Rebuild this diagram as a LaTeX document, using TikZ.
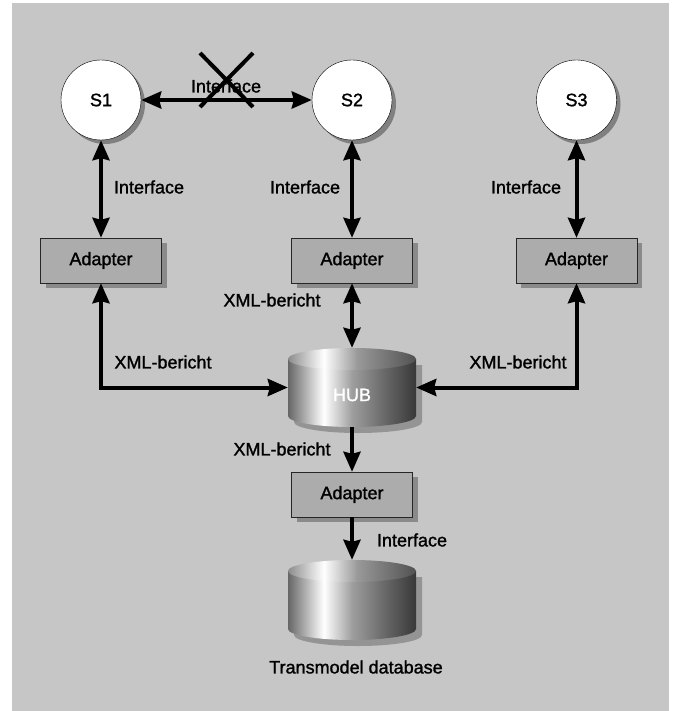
\documentclass[tikz,border=0pt]{standalone}
\usepackage{fontspec}
\setmainfont{Liberation Sans}[BoldFont=Liberation Sans, BoldFeatures={FakeBold=1.4}]
\usetikzlibrary{arrows.meta, positioning, shadows}
\usepackage{xcolor}
\definecolor{panelgray}{HTML}{C6C6C6}
\definecolor{boxgray}{HTML}{ACACAC}
\pgfdeclarehorizontalshading{cylbody}{100bp}{color(0bp)=(black!60); color(25bp)=(black!60); color(39bp)=(white); color(50bp)=(black!38); color(62bp)=(black!58); color(75bp)=(black!78); color(100bp)=(black!78)}
\pgfdeclarehorizontalshading{cyltop}{100bp}{color(0bp)=(black!45); color(25bp)=(black!45); color(39bp)=(white); color(52bp)=(black!40); color(75bp)=(black!68); color(100bp)=(black!68)}

\begin{document}
\begin{tikzpicture}[x=1pt, y=-1pt, >={Stealth[length=20pt, width=17pt, inset=2pt]},
  font=\fontsize{18}{21}\selectfont\bfseries,
  sys/.style={circle, draw=black, thin, fill=white, minimum size=80pt, inner sep=0pt,
    drop shadow={shadow xshift=4pt, shadow yshift=-4pt, opacity=0.35, fill=black}},
  adapter/.style={rectangle, draw=black!85, thin, fill=boxgray, minimum width=121pt, minimum height=45pt, inner sep=0pt,
    drop shadow={shadow xshift=5pt, shadow yshift=-5pt, opacity=0.3, fill=black}},
  link/.style={line width=4pt},
  lbl/.style={inner sep=0pt}]
  % Panel
  \useasboundingbox (0,0) rectangle (675,711);
  \fill[panelgray] (12,3) rectangle (669,711);
  % Cylinders
  \foreach \t/\b in {348/427, 560/640} {
    \fill[black, opacity=0.25] (294,\t+17) -- (294,\b-5) arc[start angle=180, end angle=0, x radius=64, y radius=11] -- (422,\t+17) -- cycle;
    \path[shading=cylbody] (288,\t+11) -- (288,\b-11) arc[start angle=180, end angle=0, x radius=64, y radius=11] -- (416,\t+11) -- cycle;
    \path[shading=cyltop] (352,\t+11) ellipse [x radius=64, y radius=11];
  }
  \node[minimum width=128pt, minimum height=79pt, inner sep=0pt] (hub) at (352,387.5) {};
  \node[lbl, text=white] (hubtxt) at (352,395) {HUB};
  \node[minimum width=128pt, minimum height=80pt, inner sep=0pt] (db) at (352,600) {};
  \node[lbl] (dbtxt) at (356,667) {Transmodel database};
  % Systems
  \node[sys] (s1) at (101,100) {S1};
  \node[sys] (s2) at (352,100) {S2};
  \node[sys] (s3) at (576.5,100) {S3};
  % Adapters
  \node[adapter] (a1) at (101,260.5) {Adapter};
  \node[adapter] (a2) at (352,260.5) {Adapter};
  \node[adapter] (a3) at (576.5,260.5) {Adapter};
  \node[adapter] (a4) at (352,494.5) {Adapter};
  % Connections
  \draw[link, <->] (s1) -- (s2);
  \draw[link, <->] (s1) -- (a1);
  \draw[link, <->] (s2) -- (a2);
  \draw[link, <->] (s3) -- (a3);
  \draw[link, <->] (a1.south) |- (hub.west);
  \draw[link, <->] (a3.south) |- (hub.east);
  \draw[link, <->] (a2) -- (hub.north);
  \draw[link, ->] (hub.south) -- (a4);
  \draw[link, ->] (a4) -- (db.north);
  % Crossed out interface
  \node[lbl] (i12) at (226,86) {Interface};
  \draw[line width=4pt] (200,53) -- (253,107) (253,53) -- (200,107);
  % Labels
  \node[lbl] (i1) at (149,187) {Interface};
  \node[lbl] (i2) at (305,187) {Interface};
  \node[lbl] (i3) at (526,187) {Interface};
  \node[lbl] (x1) at (163,362) {XML-bericht};
  \node[lbl] (x2) at (272,300) {XML-bericht};
  \node[lbl] (x3) at (518,362) {XML-bericht};
  \node[lbl] (x4) at (282,449) {XML-bericht};
  \node[lbl] (i4) at (412,540) {Interface};
\end{tikzpicture}
\end{document}
